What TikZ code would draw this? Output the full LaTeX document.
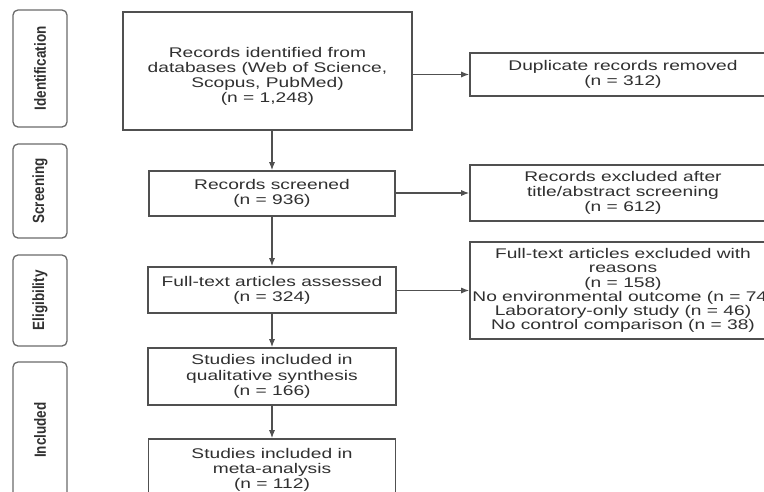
\documentclass[tikz,border=0pt]{standalone}
\usepackage{fontspec}
\setmainfont{Liberation Sans}[FakeStretch=1.37]
\newfontfamily\stagefont{Liberation Sans}
\usepackage{xcolor}
\usepackage{tikz}
\usetikzlibrary{arrows,arrows.meta}

\definecolor{boxline}{HTML}{505050}
\definecolor{boxtext}{HTML}{303030}
\definecolor{stageline}{HTML}{6A6A6A}

\tikzset{
	flowbox/.style={draw=boxline,line width=1.6pt,fill=white,inner sep=0pt,align=center,
		text=boxtext,font=\fontsize{14}{15.2}\selectfont},
	stagebox/.style={draw=stageline,line width=1.3pt,rounded corners=5pt,inner sep=0pt,
		minimum width=54pt,text=boxtext,font=\stagefont\bfseries\fontsize{13.5}{15}\selectfont},
}
\newcommand{\stagelabel}[1]{\rotatebox{90}{\scalebox{1}[1.2]{#1}}}

\begin{document}
\begin{tikzpicture}[x=1pt,y=-1pt]
		\useasboundingbox (0,0) rectangle (764,491);
		\clip (0,0) rectangle (764,491);
		%
		\node[stagebox,minimum height=117pt] (sIdent) at (40,68.5) {\stagelabel{Identification}};
		\node[stagebox,minimum height=94pt] (sScreen) at (40,191) {\stagelabel{Screening}};
		\node[stagebox,minimum height=91pt] (sElig) at (40,300.5) {\stagelabel{Eligibility}};
		\node[stagebox,minimum height=136pt] (sIncl) at (40,430) {\stagelabel{Included}};
		%
		\node[flowbox,minimum width=289pt,minimum height=118pt] (ident) at (267.5,71)
			{\rule{0pt}{21pt}Records identified from\\databases (Web of Science,\\Scopus, PubMed)\\(n = 1,248)};
		\node[flowbox,minimum width=246pt,minimum height=45pt] (screen) at (272,193.5)
			{Records screened\\(n = 936)};
		\node[flowbox,minimum width=248pt,minimum height=46pt] (full) at (272,290)
			{Full-text articles assessed\\(n = 324)};
		\node[flowbox,minimum width=248pt,minimum height=57pt] (qual) at (272,376.5)
			{Studies included in\\qualitative synthesis\\(n = 166)};
		\node[flowbox,minimum width=247pt,minimum height=62pt] (meta) at (272,470)
			{Studies included in\\meta-analysis\\(n = 112)};
		%
		\node[flowbox,minimum width=306pt,minimum height=43pt] (dup) at (623,74.5)
			{Duplicate records removed\\(n = 312)};
		\node[flowbox,minimum width=306pt,minimum height=56pt] (excl) at (623,193)
			{Records excluded after\\title/abstract screening\\(n = 612)};
		\node[flowbox,minimum width=306pt,minimum height=97pt,font=\fontsize{14}{14.2}\selectfont] (fexcl) at (623,290.5)
			{Full-text articles excluded with\\reasons\\(n = 158)\\No environmental outcome (n = 74)\\Laboratory-only study (n = 46)\\No control comparison (n = 38)};
		%
		\path[->,color=boxline,line width=1.1pt,>={Latex[length=8pt,width=6pt]}]
		(ident.south -| screen.north) edge (screen.north)
		(screen.south) edge (full.north)
		(full.south) edge (qual.north)
		(qual.south) edge (meta.north)
		(ident.east |- dup.west) edge (dup.west)
		(screen.east |- excl.west) edge (excl.west)
		(full.east |- fexcl.west) edge (fexcl.west);
	\end{tikzpicture}
\end{document}
